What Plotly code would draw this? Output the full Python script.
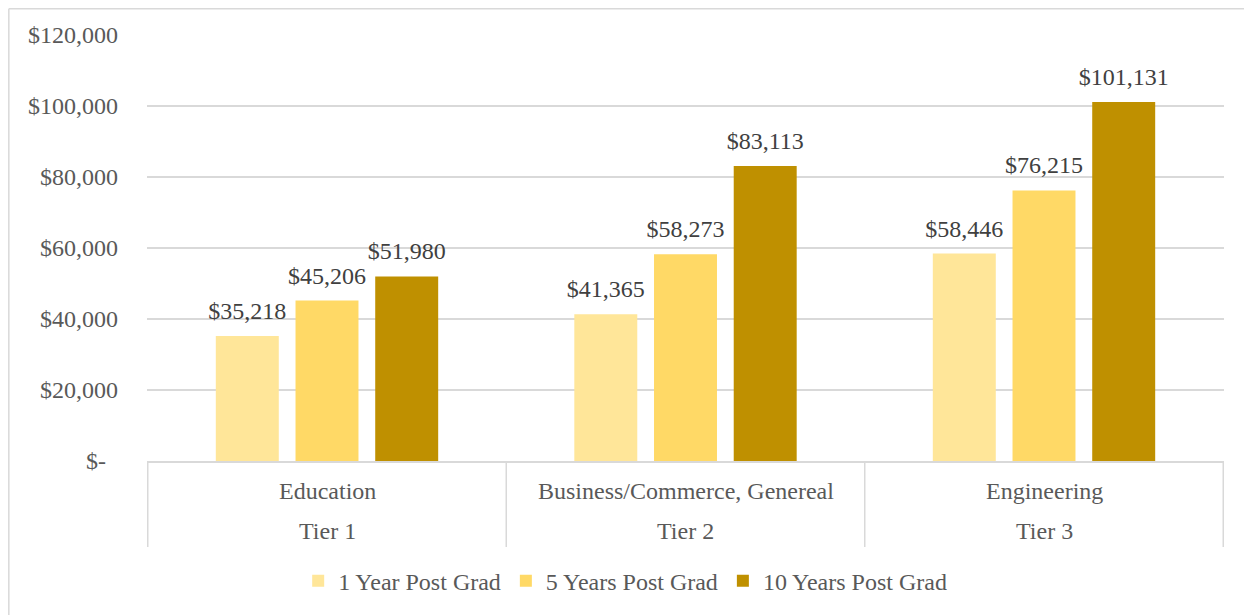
import plotly.graph_objects as go

tiers = ["Tier 1", "Tier 2", "Tier 3"]
fields = ["Education", "Business/Commerce, Genereal", "Engineering"]
one_year = [35218, 41365, 58446]
five_years = [45206, 58273, 76215]
ten_years = [51980, 83113, 101131]
series_names = ["1 Year Post Grad", "5 Years Post Grad", "10 Years Post Grad"]
colors = ["#FFE699", "#FFD966", "#BF9000"]
y_ticks = [0, 20000, 40000, 60000, 80000, 100000, 120000]
y_ticktext = ["$-\u00a0\u00a0", "$20,000", "$40,000", "$60,000", "$80,000", "$100,000", "$120,000"]

font_family = "Liberation Serif"
grey = "#595959"
line_grey = "#D9D9D9"

fig = go.Figure()
all_series = [one_year, five_years, ten_years]
for name, vals, col in zip(series_names, all_series, colors):
    fig.add_trace(go.Bar(
        x=fields, y=vals, name=name,
        marker=dict(color=col, line=dict(width=0)),
        hoverinfo="x+y",
    ))

# value labels, grouped the same way as the bars
for name, vals in zip(series_names, all_series):
    fig.add_trace(go.Scatter(
        x=fields, y=vals, mode="markers+text", showlegend=False,
        marker=dict(size=16, opacity=0),
        text=["${:,}".format(v) for v in vals], textposition="top center",
        textfont=dict(family=font_family, size=24, color="#404040"),
        cliponaxis=False, hoverinfo="skip",
    ))

fig.update_layout(
    width=1244, height=607,
    margin=dict(l=139, r=28, t=27, b=154),
    paper_bgcolor="white", plot_bgcolor="white",
    font=dict(family=font_family, size=24, color=grey),
    barmode="group", bargap=0.333, bargroupgap=0.21,
    scattermode="group", scattergap=0.333,
    showlegend=True,
    legend=dict(orientation="h", x=0.444, xanchor="center", y=-0.282, yanchor="middle",
                font=dict(family=font_family, size=24, color=grey),
                itemwidth=30, traceorder="normal"),
)
fig.update_yaxes(range=[0, 120000], tickvals=y_ticks, ticktext=y_ticktext,
                 showgrid=True, gridcolor=line_grey, gridwidth=1.5,
                 zeroline=False, showline=False, ticklabelstandoff=28,
                 tickfont=dict(family=font_family, size=24, color=grey))
fig.update_xaxes(type="category", showline=True, linecolor=line_grey, linewidth=1.5,
                 showticklabels=False, showgrid=False)

# two-level category labels below the axis
for field, tier in zip(fields, tiers):
    fig.add_annotation(x=field, xref="x", y=-0.0704, yref="paper", text=field,
                       showarrow=False, yanchor="middle",
                       font=dict(family=font_family, size=24, color=grey))
    fig.add_annotation(x=field, xref="x", y=-0.164, yref="paper", text=tier,
                       showarrow=False, yanchor="middle",
                       font=dict(family=font_family, size=24, color=grey))

# group dividers
for k in range(len(fields) + 1):
    fig.add_shape(type="line", xref="x", yref="paper", x0=k - 0.5, x1=k - 0.5,
                  y0=0, y1=-0.202, line=dict(color=line_grey, width=1.5))

# outer chart frame (left and top edges)
fig.add_shape(type="line", xref="paper", yref="paper", x0=-0.1283, x1=1.05, y0=1.0617, y1=1.0617,
              line=dict(color=line_grey, width=1.5))
fig.add_shape(type="line", xref="paper", yref="paper", x0=-0.1283, x1=-0.1283, y0=1.0617, y1=-0.4,
              line=dict(color=line_grey, width=1.5))

fig.write_html("out.html")
